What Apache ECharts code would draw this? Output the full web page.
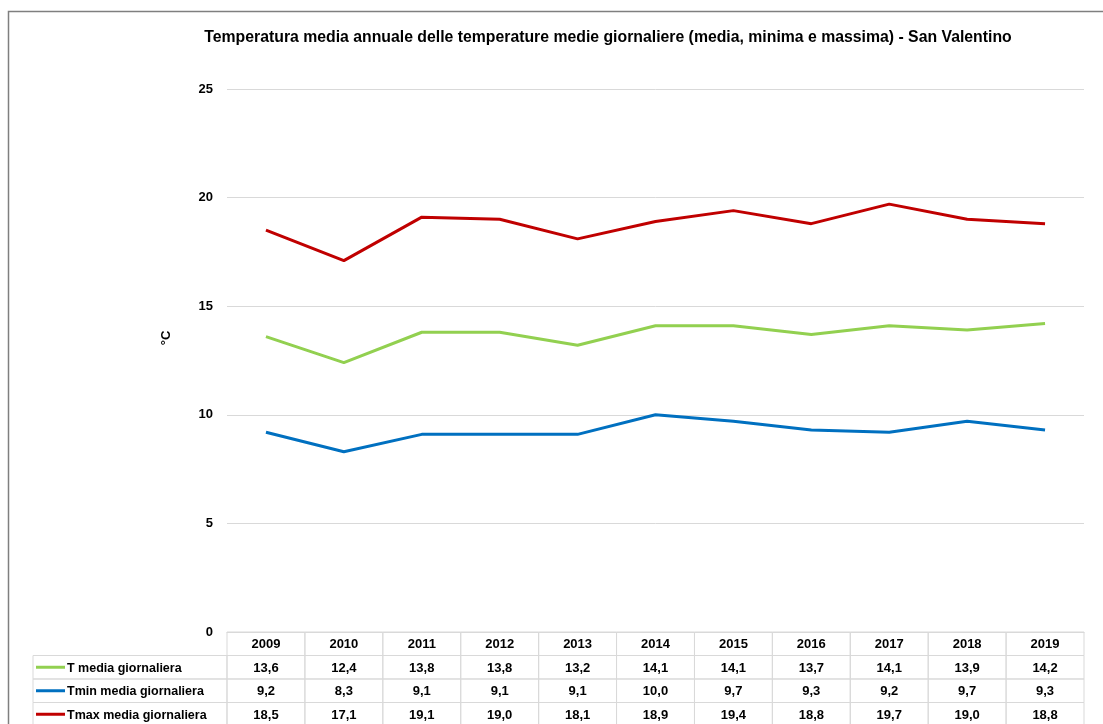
<!DOCTYPE html>
<html>
<head>
<meta charset="utf-8">
<script src="https://cdn.jsdelivr.net/npm/echarts@6/dist/echarts.min.js"></script>
<style>
html,body{margin:0;padding:0;background:#fff;}
#c{width:1103px;height:724px;}
</style>
</head>
<body>
<div id="c"></div>
<script>
var years = ['2009','2010','2011','2012','2013','2014','2015','2016','2017','2018','2019'];
var tMedia = [13.6,12.4,13.8,13.8,13.2,14.1,14.1,13.7,14.1,13.9,14.2];
var tMin = [9.2,8.3,9.1,9.1,9.1,10.0,9.7,9.3,9.2,9.7,9.3];
var tMax = [18.5,17.1,19.1,19.0,18.1,18.9,19.4,18.8,19.7,19.0,18.8];
var seriesNames = ['T media giornaliera','Tmin media giornaliera','Tmax media giornaliera'];
var yTicks = [0,5,10,15,20,25];

var colors = ['#92D050','#0070C0','#C00000'];
var FONT = '"Liberation Sans", Arial, sans-serif';
var chart = echarts.init(document.getElementById('c'), null, {renderer:'canvas'});
var seriesData = [tMedia, tMin, tMax];

chart.setOption({
  animation:false,
  backgroundColor:'#fff',
  title:{
    text:'Temperatura media annuale delle temperature medie giornaliere (media, minima e massima) - San Valentino',
    left:603, top:25, textAlign:'center',
    textStyle:{fontFamily:FONT,fontWeight:'bold',fontSize:15.8,color:'#000'}
  },
  grid:{left:227,right:19,top:89,bottom:92},
  xAxis:{
    type:'category', data:years, boundaryGap:true,
    axisLine:{show:true,lineStyle:{color:'#D9D9D9',width:1}},
    axisTick:{show:false}, axisLabel:{show:false}, splitLine:{show:false}
  },
  yAxis:{
    type:'value', min:yTicks[0], max:yTicks[yTicks.length-1], interval:5,
    axisLine:{show:false}, axisTick:{show:false},
    axisLabel:{fontFamily:FONT,fontWeight:'bold',fontSize:13,color:'#000',margin:14},
    splitLine:{lineStyle:{color:'#D9D9D9',width:1}}
  },
  series: seriesData.map(function(d,i){
    return {type:'line', name:seriesNames[i], data:d, symbol:'none',
      lineStyle:{color:colors[i],width:3}, itemStyle:{color:colors[i]}, z:5-i};
  })
});

// Data table drawn beneath the plot, aligned to the category axis
var n = years.length;
var x0 = chart.convertToPixel({xAxisIndex:0}, 0);
var x1 = chart.convertToPixel({xAxisIndex:0}, 1);
var bw = x1 - x0;
var left = x0 - bw/2;
var yTop = chart.convertToPixel({yAxisIndex:0}, 0);
var rowH = 23.5;
var labelLeft = 33;
var border = '#D9D9D9';
var els = [];
function cell(x,y,w,h){
  els.push({type:'rect', shape:{x:x,y:y,width:w,height:h}, style:{fill:'none',stroke:border,lineWidth:1}, silent:true});
}
function txt(x,y,s,align,size){
  els.push({type:'text', x:x, y:y, style:{text:s, fill:'#000', font:'bold '+(size||13)+'px '+FONT, align:align||'center', verticalAlign:'middle'}, silent:true});
}
for (var i=0;i<n;i++){
  var cx = chart.convertToPixel({xAxisIndex:0}, i);
  cell(cx-bw/2, yTop, bw, rowH);
  txt(cx, yTop+rowH/2+1, years[i]);
  for (var r=0;r<3;r++){
    var y = yTop+rowH*(r+1);
    cell(cx-bw/2, y, bw, rowH);
    txt(cx, y+rowH/2+1, seriesData[r][i].toFixed(1).replace('.',','));
  }
}
for (var r=0;r<3;r++){
  var y = yTop+rowH*(r+1);
  cell(labelLeft, y, left-labelLeft, rowH);
  els.push({type:'line', shape:{x1:labelLeft+3,y1:y+rowH/2,x2:labelLeft+32,y2:y+rowH/2}, style:{stroke:colors[r],lineWidth:3}, silent:true});
  txt(labelLeft+34, y+rowH/2+1, seriesNames[r], 'left', 12.5);
}
// y-axis title
els.push({type:'text', x:166, y:338, rotation:Math.PI/2, style:{text:'°C', fill:'#000', font:'bold 13px '+FONT, align:'center', verticalAlign:'middle'}, silent:true});
// outer chart border
els.push({type:'rect', shape:{x:8.5,y:11.5,width:1200,height:800}, style:{fill:'none',stroke:'#7F7F7F',lineWidth:1.5}, silent:true});
chart.setOption({graphic:{elements:els}});
</script>
</body>
</html>
